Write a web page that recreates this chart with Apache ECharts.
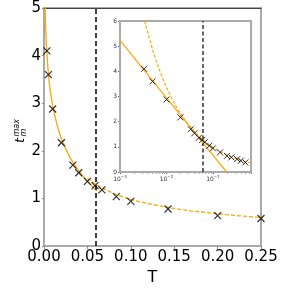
<!DOCTYPE html>
<html><head><meta charset="utf-8">
<script src="https://cdn.jsdelivr.net/npm/echarts@6/dist/echarts.min.js"></script>
<style>html,body{margin:0;padding:0;background:#fff}#c{width:291px;height:291px}</style>
</head><body><div id="c"></div>
<script>
// measured data points
const dataT = [0.0033, 0.005, 0.01, 0.02, 0.0333, 0.04, 0.05, 0.0588, 0.0667, 0.0833, 0.1, 0.1429, 0.2, 0.25, 0.333, 0.4, 0.5];
const dataY = [4.10, 3.60, 2.88, 2.17, 1.70, 1.54, 1.36, 1.27, 1.18, 1.04, 0.94, 0.78, 0.64, 0.58, 0.51, 0.45, 0.38];
// logarithmic fit curve (solid)
const logFitT = [0.001, 0.00126, 0.0015, 0.002, 0.003, 0.005, 0.007, 0.01, 0.015, 0.02, 0.03, 0.04, 0.05, 0.061, 0.1, 0.197];
const logFitY = [5.23, 5.00, 4.83, 4.54, 4.14, 3.64, 3.30, 2.95, 2.55, 2.26, 1.86, 1.58, 1.36, 1.16, 0.67, 0.00];
// power-law fit curve (dashed)
const powFitT = [0.0034, 0.005, 0.007, 0.01, 0.015, 0.02, 0.03, 0.04, 0.05, 0.07, 0.1, 0.15, 0.2, 0.25, 0.35, 0.5, 0.66];
const powFitY = [6.0, 4.88, 4.08, 3.37, 2.71, 2.32, 1.87, 1.60, 1.42, 1.19, 0.98, 0.79, 0.68, 0.60, 0.50, 0.41, 0.36];
// critical temperature (vertical dashed line)
const Tc = 0.0554;
const mainLogCut = 0.061;
const mainPowStart = 0.05;
const mainYTicks = [0, 5];
const insetYTicks = [0, 6];

const pts = dataT.map((t, i) => [t, dataY[i]]);
const logAll = logFitT.map((t, i) => [t, logFitY[i]]);
const powAll = powFitT.map((t, i) => [t, powFitY[i]]);
const logMain = logAll.filter(p => p[0] <= mainLogCut);
const powMain = powAll.filter(p => p[0] >= mainPowStart);

const ORANGE = '#FFA500';
const FONT = 'DejaVu Sans';
const xSym = 'path://M0,0L10,10M10,0L0,10';

function decadeLabel(v) {
  const e = Math.log10(v);
  if (Math.abs(e - Math.round(e)) > 1e-6) return '';
  return '{b|10}{s|\u2212' + Math.round(-e) + '}';
}

const chart = echarts.init(document.getElementById('c'), null, {renderer: 'canvas'});
chart.setOption({
  animation: false,
  backgroundColor: '#fff',
  grid: [
    {left: 44, top: 8, width: 217, height: 250, show: true, borderColor: '#aaa', borderWidth: 2, backgroundColor: '#fff'},
    {left: 120, top: 21, width: 131, height: 151, show: true, borderColor: '#aaa', borderWidth: 2, backgroundColor: '#fff', z: 5}
  ],
  xAxis: [
    {gridIndex: 0, type: 'value', min: 0, max: 0.25, interval: 0.05,
     name: 'T', nameLocation: 'middle', nameGap: 17,
     nameTextStyle: {fontFamily: FONT, fontSize: 16, color: '#000'},
     axisLine: {lineStyle: {color: '#aaa', width: 2}},
     axisTick: {show: true, length: 3, lineStyle: {color: '#888'}},
     axisLabel: {fontFamily: FONT, fontSize: 15, color: '#000', margin: 4, formatter: v => v.toFixed(2)},
     splitLine: {show: false}},
    {gridIndex: 1, type: 'log', min: 0.001, max: 0.66, logBase: 10,
     axisLine: {lineStyle: {color: '#aaa', width: 2}},
     axisTick: {show: true, length: 2, lineStyle: {color: '#666'}},
     minorTick: {show: true, splitNumber: 9, length: 1.5, lineStyle: {color: '#666'}},
     axisLabel: {fontFamily: FONT, fontSize: 6, color: '#333', margin: 3, showMaxLabel: false,
       formatter: decadeLabel,
       rich: {b: {fontFamily: FONT, fontSize: 6, color: '#333'}, s: {fontFamily: FONT, fontSize: 4, color: '#333', padding: [0, 0, 4, 0]}}},
     splitLine: {show: false}},
    {gridIndex: 0, type: 'value', position: 'top', min: 0, max: 0.25, interval: 0.05,
     axisLine: {lineStyle: {color: '#444', width: 1.2}}, axisTick: {show: false}, axisLabel: {show: false}, splitLine: {show: false}}
  ],
  yAxis: [
    {gridIndex: 0, type: 'value', min: mainYTicks[0], max: mainYTicks[1], interval: 1,
     axisLine: {show: true, lineStyle: {color: '#aaa', width: 2}},
     axisTick: {show: true, length: 2, lineStyle: {color: '#888'}},
     axisLabel: {fontFamily: FONT, fontSize: 15, color: '#000', margin: 3},
     splitLine: {show: false}},
    {gridIndex: 1, type: 'value', min: insetYTicks[0], max: insetYTicks[1], interval: 1,
     axisLine: {show: true, lineStyle: {color: '#aaa', width: 2}},
     axisTick: {show: true, length: 2, lineStyle: {color: '#666'}},
     axisLabel: {fontFamily: FONT, fontSize: 6, color: '#333', margin: 3},
     splitLine: {show: false}}
  ],
  series: [
    {type: 'line', xAxisIndex: 0, yAxisIndex: 0, data: logMain, showSymbol: false, smooth: 0.3, clip: true,
     lineStyle: {color: ORANGE, width: 1.3}, z: 2,
     markLine: {silent: true, symbol: 'none', label: {show: false},
       lineStyle: {color: '#000', type: [5, 3], width: 1.5}, data: [{xAxis: Tc}]}},
    {type: 'line', xAxisIndex: 0, yAxisIndex: 0, data: powMain, showSymbol: false, smooth: 0.3, clip: true,
     lineStyle: {color: ORANGE, width: 1.3, type: [4, 2]}, z: 2},
    {type: 'scatter', xAxisIndex: 0, yAxisIndex: 0, data: pts, symbol: xSym, symbolSize: 7, clip: true,
     itemStyle: {color: 'transparent', borderColor: '#000', borderWidth: 1.2}, z: 3},
    {type: 'line', xAxisIndex: 1, yAxisIndex: 1, data: logAll, showSymbol: false, clip: true,
     lineStyle: {color: ORANGE, width: 1.2}, z: 6,
     markLine: {silent: true, symbol: 'none', label: {show: false},
       lineStyle: {color: '#333', type: [4, 2.5], width: 1.5}, data: [{xAxis: Tc}]}},
    {type: 'line', xAxisIndex: 1, yAxisIndex: 1, data: powAll, showSymbol: false, smooth: 0.3, clip: true,
     lineStyle: {color: ORANGE, width: 1.2, type: [3, 2]}, z: 6},
    {type: 'scatter', xAxisIndex: 1, yAxisIndex: 1, data: pts, symbol: xSym, symbolSize: 6, clip: true,
     itemStyle: {color: 'transparent', borderColor: '#000', borderWidth: 1}, z: 7}
  ],
  graphic: [{
    type: 'group', x: 21, y: 143, rotation: Math.PI / 2,
    children: [
      {type: 'text', x: 0, y: 0, style: {text: 't', fontFamily: FONT, fontStyle: 'italic', fontSize: 13, fill: '#000', align: 'left', verticalAlign: 'middle'}},
      {type: 'text', x: 6.5, y: -4.5, style: {text: 'max', fontFamily: FONT, fontStyle: 'italic', fontSize: 8, fill: '#000', align: 'left', verticalAlign: 'middle'}},
      {type: 'text', x: 6.5, y: 3, style: {text: 'm', fontFamily: FONT, fontStyle: 'italic', fontSize: 8, fill: '#000', align: 'left', verticalAlign: 'middle'}}
    ]
  }]
});
</script></body></html>
